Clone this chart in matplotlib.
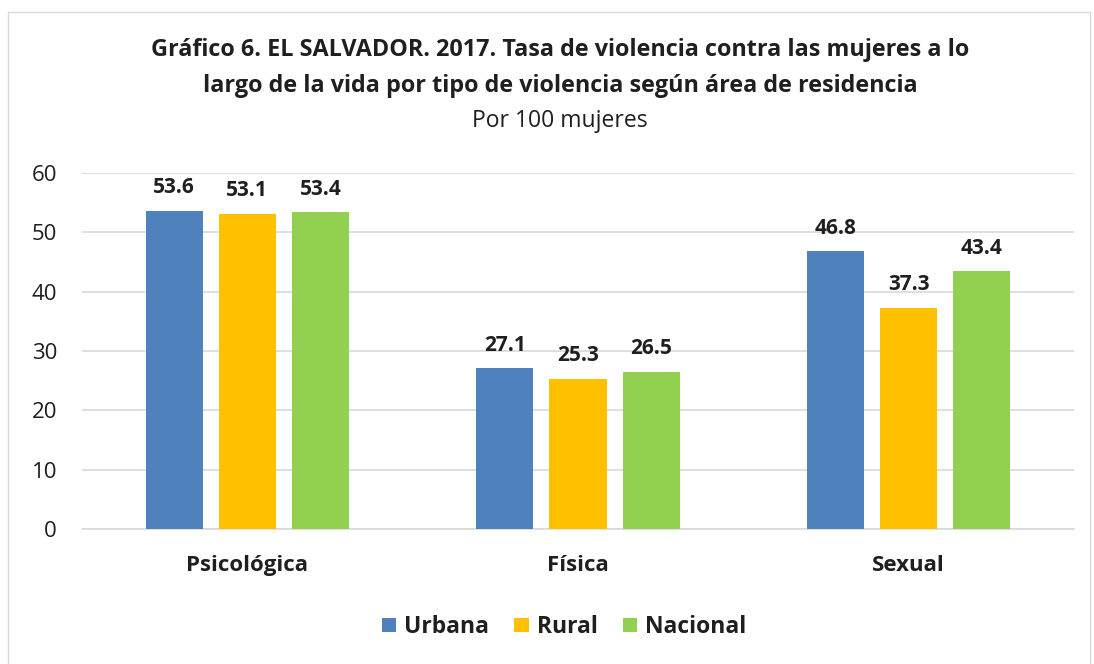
import matplotlib
matplotlib.use("Agg")
import matplotlib.pyplot as plt
import numpy as np
from matplotlib.patches import Rectangle

categories = ["Psicológica", "Física", "Sexual"]
series_names = ["Urbana", "Rural", "Nacional"]
urbana = [53.6, 27.1, 46.8]
rural = [53.1, 25.3, 37.3]
nacional = [53.4, 26.5, 43.4]
colors = ["#4F81BD", "#FFC000", "#92D050"]
yticks = [0, 10, 20, 30, 40, 50, 60]

title1 = "Gráfico 6. EL SALVADOR. 2017. Tasa de violencia contra las mujeres a lo"
title2 = "largo de la vida por tipo de violencia según área de residencia"
subtitle = "Por 100 mujeres"

plt.rcParams['font.family'] = ['Open Sans', 'DejaVu Sans']
txt = "#1F1F1F"

fig = plt.figure(figsize=(10.94, 6.64), dpi=100)
fig.patches.append(Rectangle((8/1094, -0.01), (1090-8)/1094, 1 - 12/664 + 0.01,
                             transform=fig.transFigure, fill=False,
                             edgecolor="#D9D9D9", linewidth=1.0))
ax = fig.add_axes([82/1094, 1-529/664, (1074-82)/1094, (529-173)/664])

x = np.arange(len(categories))
width = 0.1725
step = 0.221
data = [urbana, rural, nacional]
for i, (name, vals, c) in enumerate(zip(series_names, data, colors)):
    bars = ax.bar(x + (i-1)*step, vals, width, color=c, label=name, zorder=3)
    for b, v in zip(bars, vals):
        ax.annotate(f"{v:.1f}", (b.get_x()+b.get_width()/2, v), xytext=(0, 9),
                    textcoords="offset points", ha="center", va="bottom",
                    fontsize=15, fontweight="bold", color=txt)

ax.set_xlim(-0.5, 2.5)
ax.set_ylim(0, 60)
ax.set_yticks(yticks)
ax.set_yticklabels([str(t) for t in yticks], fontsize=16, color=txt)
ax.set_xticks(x)
ax.set_xticklabels(categories, fontsize=16, fontweight="bold", color=txt)
ax.tick_params(axis="both", length=0)
ax.tick_params(axis="y", pad=18)
ax.tick_params(axis="x", pad=19)
ax.grid(axis="y", color="#D9D9D9", linewidth=1.2, zorder=0)
for s in ["top", "right", "left"]:
    ax.spines[s].set_visible(False)
ax.spines["bottom"].set_color("#D9D9D9")
ax.spines["bottom"].set_linewidth(1.2)

cx = 560/1094
fig.text(cx, 1-50/664, title1, ha="center", va="center", fontsize=16.8, fontweight="bold", color=txt)
fig.text(cx, 1-86/664, title2, ha="center", va="center", fontsize=16.8, fontweight="bold", color=txt)
fig.text(cx, 1-121/664, subtitle, ha="center", va="center", fontsize=16.5, color=txt)

leg = fig.legend(loc="center", bbox_to_anchor=(564/1094, 1-627/664), ncol=3, frameon=False,
                 prop={"size": 16.5, "weight": "bold"}, handlelength=0.62, handleheight=0.62,
                 handletextpad=0.35, columnspacing=1.1)
for t in leg.get_texts():
    t.set_color(txt)

fig.savefig("out.png", dpi=100)
